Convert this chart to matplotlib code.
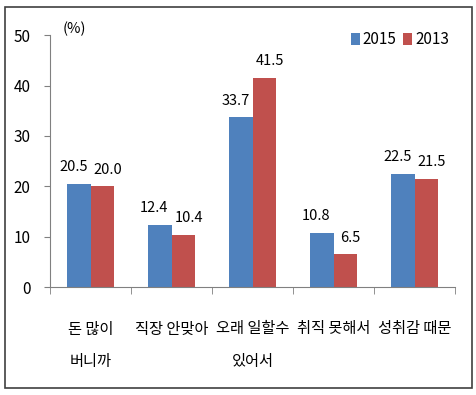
import matplotlib.pyplot as plt
import numpy as np
from matplotlib.patches import Rectangle

plt.rcParams["font.family"] = ["Noto Sans CJK KR", "DejaVu Sans"]

categories = ["돈 많이\n버니까", "직장 안맞아", "오래 일할수\n있어서", "취직 못해서", "성취감 때문"]
v2015 = [20.5, 12.4, 33.7, 10.8, 22.5]
v2013 = [20.0, 10.4, 41.5, 6.5, 21.5]
yticks = [0, 10, 20, 30, 40, 50]

BLUE = "#4F81BD"
RED = "#C0504D"

fig = plt.figure(figsize=(4.77, 3.95), dpi=100)
ax = fig.add_axes([0.105, 0.273, 0.849, 0.638])

x = np.arange(len(categories))
w = 0.285
b1 = ax.bar(x - w / 2, v2015, w, color=BLUE, label="2015")
b2 = ax.bar(x + w / 2, v2013, w, color=RED, label="2013")

# Excel-style labels: blue ones nudged left, red ones nudged right
for bars, vals, dx in ((b1, v2015, -4), (b2, v2013, 4)):
    for r, v in zip(bars, vals):
        ax.annotate(f"{v:.1f}", (r.get_x() + r.get_width() / 2, v),
                    xytext=(dx, 7), textcoords="offset points",
                    ha="center", va="bottom", fontsize=10.5)

ax.set_xlim(-0.5, len(categories) - 0.5)
ax.set_ylim(0, 50)
ax.set_yticks(yticks)
ax.set_xticks(x)
ax.set_xticklabels(categories, fontsize=11, linespacing=2.2, va="top")
ax.set_xticks(np.arange(len(categories) + 1) - 0.5, minor=True)
ax.tick_params(axis="x", which="major", length=0, pad=24)
ax.tick_params(axis="x", which="minor", length=5, color="#808080", direction="out")
ax.tick_params(axis="y", length=4, color="#808080", labelsize=11, pad=10)

for s in ("top", "right"):
    ax.spines[s].set_visible(False)
for s in ("left", "bottom"):
    ax.spines[s].set_color("#808080")

ax.text(0.03, 1.025, "(%)", transform=ax.transAxes, fontsize=10.5, va="center")

ax.legend(loc="upper right", bbox_to_anchor=(1.0, 1.04), ncol=2, frameon=False,
          fontsize=11, handlelength=0.6, handleheight=0.9, handletextpad=0.2,
          columnspacing=0.4, borderaxespad=0)

fig.patches.append(Rectangle((5 / 477, 7 / 395), 467 / 477, 381 / 395,
                             transform=fig.transFigure, fill=False,
                             edgecolor="#404040", linewidth=1.2))

fig.savefig("out.png", dpi=100)
